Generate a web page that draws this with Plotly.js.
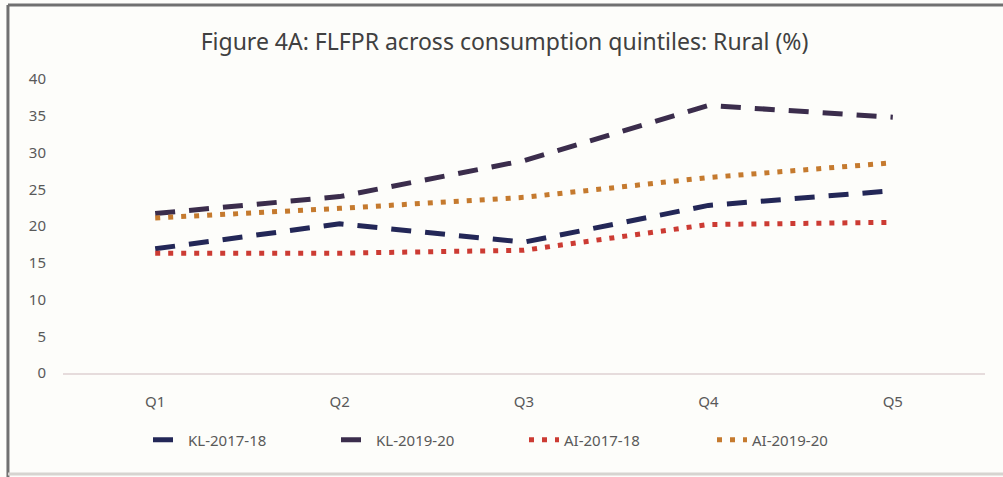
<!DOCTYPE html>
<html>
<head>
<meta charset="utf-8">
<script src="https://cdn.plot.ly/plotly-3.0.1.min.js"></script>
<style>html,body{margin:0;padding:0;background:#fdfdfa;}#chart{width:1003px;height:477px;}</style>
</head>
<body>
<div id="chart"></div>
<script>
var quintiles = ["Q1", "Q2", "Q3", "Q4", "Q5"];
var seriesNames = ["KL-2017-18", "KL-2019-20", "AI-2017-18", "AI-2019-20"];
var kl201718 = [16.9, 20.3, 17.8, 22.8, 24.8];
var kl201920 = [21.7, 24.0, 28.9, 36.4, 34.8];
var ai201718 = [16.3, 16.3, 16.7, 20.2, 20.5];
var ai201920 = [21.1, 22.4, 23.9, 26.6, 28.6];
var yTicks = [0, 5, 10, 15, 20, 25, 30, 35, 40];

var FONT = "Liberation Sans Narrow, Arial Narrow, Noto Sans, sans-serif";
var dashed = "20px,14px";
var dotted = "5px,8px";

var traces = [
  {x: quintiles, y: kl201718, name: seriesNames[0], mode: "lines",
   line: {color: "#232757", width: 5, dash: dashed}},
  {x: quintiles, y: kl201920, name: seriesNames[1], mode: "lines",
   line: {color: "#3b2d4c", width: 5, dash: dashed}},
  {x: quintiles, y: ai201718, name: seriesNames[2], mode: "lines",
   line: {color: "#cc3b33", width: 5, dash: dotted}},
  {x: quintiles, y: ai201920, name: seriesNames[3], mode: "lines",
   line: {color: "#c57a2e", width: 5, dash: dotted}}
];

var layout = {
  width: 1003, height: 477,
  paper_bgcolor: "#fdfdfa", plot_bgcolor: "#fdfdfa",
  margin: {l: 63, r: 18, t: 79, b: 104, autoexpand: false},
  font: {family: FONT, color: "#595959", size: 15},
  title: {text: "Figure 4A: FLFPR across consumption quintiles: Rural (%)",
          font: {family: FONT, size: 23, color: "#404040"},
          x: 0.503, xanchor: "center", y: 0.912, yanchor: "middle"},
  xaxis: {type: "category", range: [-0.5, 4.5], showgrid: false, zeroline: false,
          showline: true, linecolor: "#e6dcdc", linewidth: 2, ticks: "",
          ticklabelstandoff: 14, tickfont: {size: 15, color: "#595959"}, fixedrange: true},
  yaxis: {range: [0, 40], tickvals: yTicks, showgrid: false, zeroline: false,
          showline: false, ticks: "", ticklabelstandoff: 16,
          tickfont: {size: 15, color: "#595959"}, fixedrange: true},
  showlegend: true,
  legend: {orientation: "h", x: 0.5, xanchor: "center", y: -0.228, yanchor: "middle",
           entrywidth: 143, entrywidthmode: "pixels",
           font: {size: 15, color: "#595959"}, bgcolor: "rgba(0,0,0,0)"},
  shapes: [
    {type: "line", xref: "paper", yref: "paper", x0: -0.0597, x1: 1.02, y0: 1.2517, y1: 1.2517,
     line: {color: "#707070", width: 3}},
    {type: "line", xref: "paper", yref: "paper", x0: -0.0597, x1: -0.0597, y0: 1.2517, y1: -0.36,
     line: {color: "#707070", width: 3}},
    {type: "line", xref: "paper", yref: "paper", x0: -0.0597, x1: 1.02, y0: -0.3435, y1: -0.3435,
     line: {color: "#d6d4d0", width: 3}}
  ]
};

Plotly.newPlot("chart", traces, layout, {displayModeBar: false, staticPlot: true});
</script>
</body>
</html>
